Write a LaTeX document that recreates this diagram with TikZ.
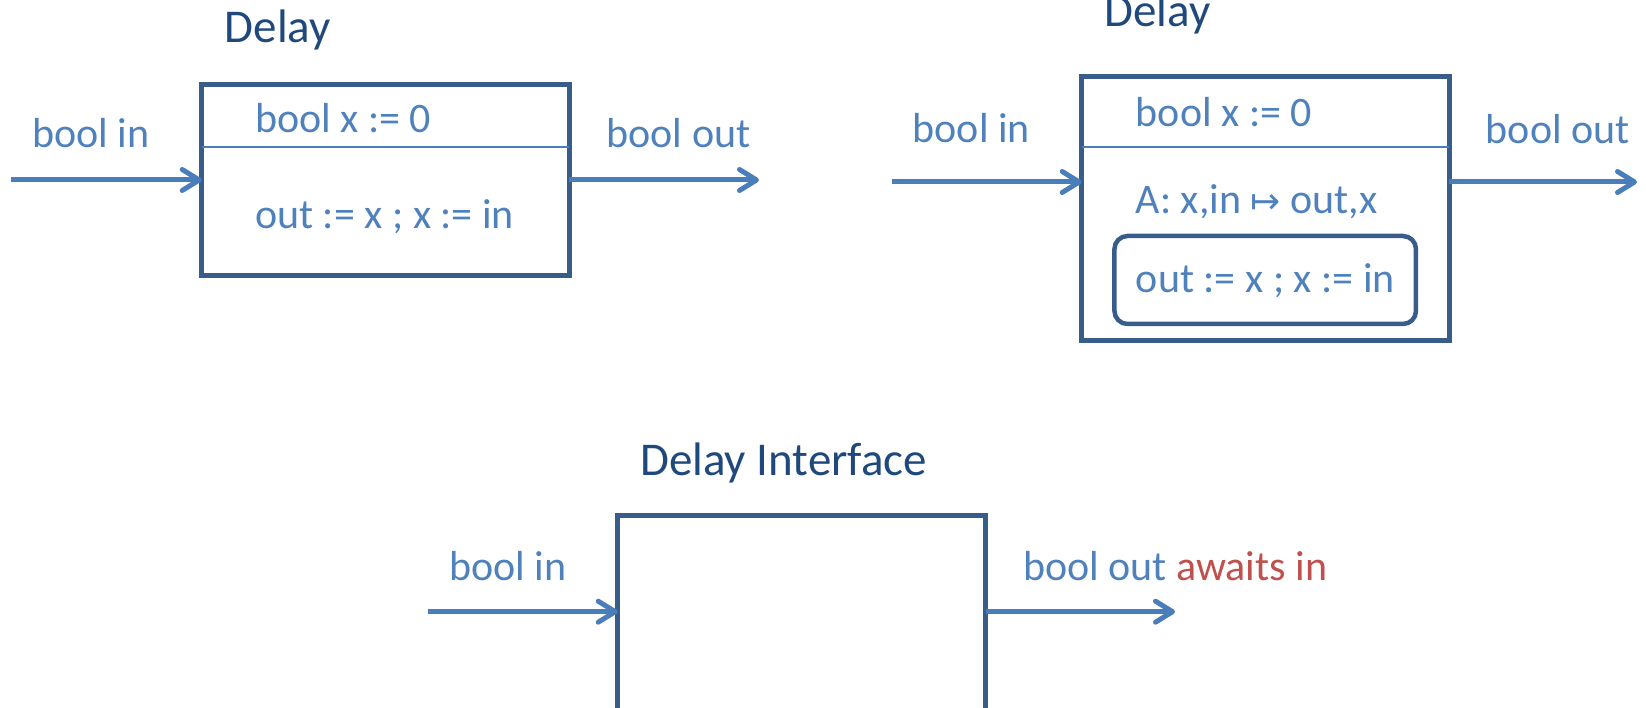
\documentclass[tikz,border=0pt]{standalone}
\usepackage{fontspec}
\setmainfont{Carlito}
\newfontfamily\arrowfont{DejaVu Sans}
\usetikzlibrary{arrows.meta}
\definecolor{txtblue}{HTML}{4F81BD}
\definecolor{boxblue}{HTML}{385D8A}
\definecolor{titleblue}{HTML}{1F497D}
\definecolor{awaitred}{HTML}{C0504D}
\definecolor{lineblue}{HTML}{4A7EBB}
\begin{document}
\begin{tikzpicture}[x=1pt,y=-1pt,
  lbl/.style={anchor=base west, inner sep=0pt, text=txtblue, font=\fontsize{42}{50}\selectfont},
  ttl/.style={anchor=base west, inner sep=0pt, text=titleblue, font=\fontsize{47}{56}\selectfont},
  blk/.style={draw=boxblue, line width=5pt, outer sep=0pt, inner sep=0pt},
  actbox/.style={blk, line width=4.5pt, rounded corners=13pt},
  port/.style={draw=lineblue, line width=5pt, -{Straight Barb[length=17pt,width=21pt,line cap=round,line join=round]}},
  sep/.style={draw=lineblue, line width=2pt}]
\useasboundingbox (0,0) rectangle (1646,708);
\clip (0,0) rectangle (1646,708);

% ---- Delay (state + body) ----
\node[blk, minimum width=367.6pt, minimum height=191pt] (d1) at (385.5,180.5) {};
\coordinate (d1sep) at (0,147.5);
\draw[sep] (d1.west |- d1sep) -- (d1.east |- d1sep);
\coordinate (d1in) at (11,180);
\coordinate (d1out) at (759,180);
\draw[port] (d1in) -- (d1in -| d1.west);
\draw[port] (d1out -| d1.east) -- (d1out);
\node[ttl] (d1t) at (224.6,43) {Delay};
\node[lbl] (d1i) at (32,148) {bool in};
\node[lbl] (d1v) at (255,133) {bool x := 0};
\node[lbl] (d1b) at (255,229) {out := x ; x := in};
\node[lbl] (d1o) at (606.4,148) {bool out};

% ---- Delay with action A ----
\node[blk, minimum width=367.6pt, minimum height=263.7pt] (d2) at (1265.5,208.2) {};
\coordinate (d2sep) at (0,146.7);
\draw[sep] (d2.west |- d2sep) -- (d2.east |- d2sep);
\coordinate (d2in) at (892,182);
\coordinate (d2out) at (1637,182);
\draw[port] (d2in) -- (d2in -| d2.west);
\draw[port] (d2out -| d2.east) -- (d2out);
\node[actbox, minimum width=301.5pt, minimum height=88pt] (d2a) at (1265.2,280) {};
\node[ttl] (d2t) at (1104.4,26.7) {Delay};
\node[lbl] (d2i) at (912.5,143) {bool in};
\node[lbl] (d2v) at (1135.7,126.7) {bool x := 0};
\node[lbl] (d2s) at (1135.7,214) {A: x,in {\arrowfont\fontsize{36}{40}\selectfont ↦} out,x};
\node[lbl] (d2b) at (1135.7,292.7) {out := x ; x := in};
\node[lbl] (d2o) at (1485.7,144) {bool out};

% ---- Delay interface ----
\node[blk, minimum width=368pt, minimum height=244pt] (d3) at (801.7,637.3) {};
\coordinate (d3in) at (427.6,611.7);
\coordinate (d3out) at (1175,611.7);
\draw[port] (d3in) -- (d3in -| d3.west);
\draw[port] (d3out -| d3.east) -- (d3out);
\node[ttl] (d3t) at (640,475) {Delay Interface};
\node[lbl] (d3i) at (448.9,580.7) {bool in};
\node[lbl] (d3o) at (1022.9,580.7) {bool out {\color{awaitred}awaits in}};
\end{tikzpicture}
\end{document}
